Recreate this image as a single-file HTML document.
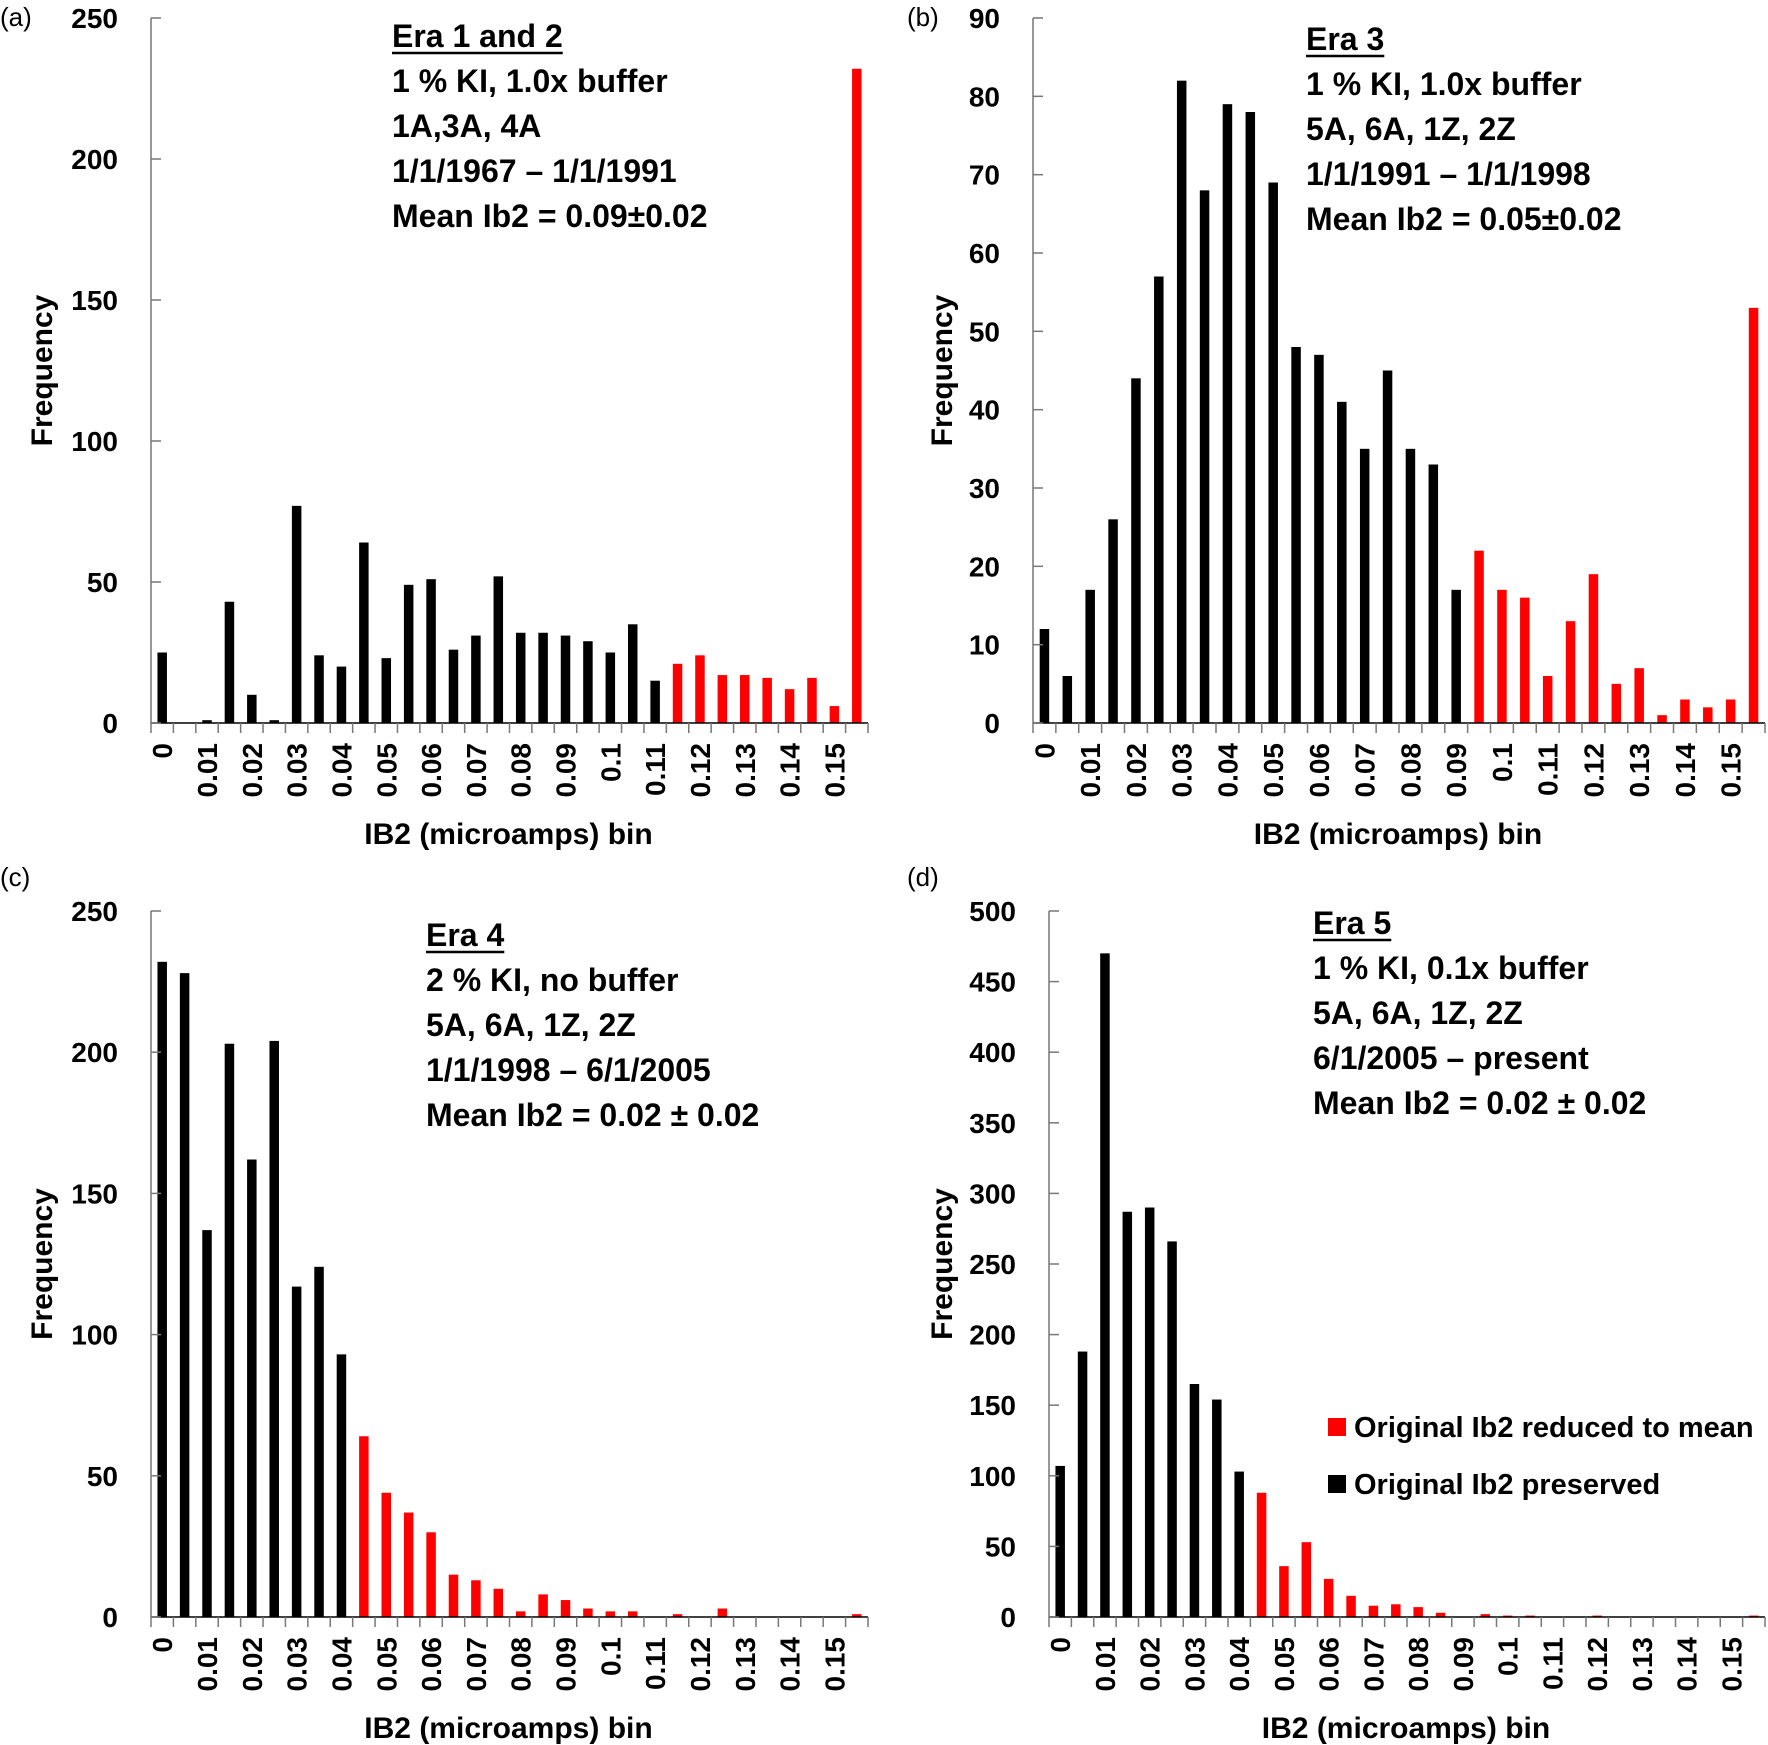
<!DOCTYPE html>
<html><head><meta charset="utf-8">
<style>
html,body{margin:0;padding:0;background:#fff;}
svg{display:block;}
text{font-family:"Liberation Sans",sans-serif;}
</style></head>
<body>
<svg id="fig" width="1768" height="1745" viewBox="0 0 1768 1745" xmlns="http://www.w3.org/2000/svg"></svg>
<script>
const binLabels = ["0","0.01","0.02","0.03","0.04","0.05","0.06","0.07","0.08","0.09","0.1","0.11","0.12","0.13","0.14","0.15"];
const valuesA = [25,0,1,43,10,1,77,24,20,64,23,49,51,26,31,52,32,32,31,29,25,35,15,21,24,17,17,16,12,16,6,232];
const redStartA = 23;
const ticksA = [0,50,100,150,200,250];
const valuesB = [12,6,17,26,44,57,82,68,79,78,69,48,47,41,35,45,35,33,17,22,17,16,6,13,19,5,7,1,3,2,3,53];
const redStartB = 19;
const ticksB = [0,10,20,30,40,50,60,70,80,90];
const valuesC = [232,228,137,203,162,204,117,124,93,64,44,37,30,15,13,10,2,8,6,3,2,2,0,1,0,3,0,0,0,0,0,1];
const redStartC = 9;
const ticksC = [0,50,100,150,200,250];
const valuesD = [107,188,470,287,290,266,165,154,103,88,36,53,27,15,8,9,7,3,0,2,1,1,0,0,1,0,0,0,0,0,0,1];
const redStartD = 9;
const ticksD = [0,50,100,150,200,250,300,350,400,450,500];

const NS="http://www.w3.org/2000/svg";
const svg=document.getElementById('fig');
function mk(tag,attrs,parent,txt){const e=document.createElementNS(NS,tag);for(const k in attrs)e.setAttribute(k,attrs[k]);if(txt!==undefined)e.textContent=txt;(parent||svg).appendChild(e);return e;}

function panel(id,L,T,B,R,vals,redStart,ticks,letter,letterX,letterY,annX,annY,lines,ytX){
  const g=mk('g',{});
  
  
  const ymax=ticks[ticks.length-1];
  const y=v=>B-(v/ymax)*(B-T);
  const n=vals.length, cw=(R-L)/n;
  const x=i=>L+cw*(i+0.5);
  vals.forEach((v,i)=>{
    const r=mk('rect',{x:x(i)-4.75,y:y(v),width:9.5,height:B-y(v),fill:i>=redStart?'#ff0000':'#000'},g);
    
    
  });
  const ya=mk('line',{x1:L,y1:T,x2:L,y2:B,stroke:'#777','stroke-width':1.5},g);
  
  
  const xa=mk('line',{x1:L,y1:B,x2:R,y2:B,stroke:'#000','stroke-width':1.5},g);
  
  
  ticks.forEach(t=>{
    mk('line',{x1:L,y1:y(t),x2:L+10,y2:y(t),stroke:'#777','stroke-width':1.5},g);
    const tl=mk('text',{x:L-33,y:y(t)+10,'text-anchor':'end','font-size':28,'font-weight':'bold'},g,String(t));
    
    
  });
  for(let i=0;i<=n;i++) mk('line',{x1:L+cw*i,y1:B,x2:L+cw*i,y2:B+10,stroke:'#777','stroke-width':1.5},g);
  binLabels.forEach((lab,k)=>{
    const cx=x(2*k)+10, cy=B+20;
    const tl=mk('text',{x:cx,y:cy,transform:`rotate(-90 ${cx} ${cy})`,'text-anchor':'end','font-size':28,'font-weight':'bold'},g,lab);
    
    
  });
  const xt=mk('text',{x:(L+R)/2-1,y:B+121,'text-anchor':'middle','font-size':30,'font-weight':'bold'},g,'IB2 (microamps) bin');
  
  
  const yc=(T+B)/2;
  const yt=mk('text',{x:ytX,y:yc,transform:`rotate(-90 ${ytX} ${yc})`,'text-anchor':'middle','font-size':30,'font-weight':'bold'},g,'Frequency');
  
  
  const pl=mk('text',{x:letterX,y:letterY,'font-size':26},g,'('+letter+')');
  
  
  lines.forEach((ln,k)=>{
    const t=mk('text',{x:annX,y:annY+45*k,'font-size':32,'font-weight':'bold'},g,ln);
    
    
    if(k===0){const w=t.getComputedTextLength();mk('line',{x1:annX,y1:annY+6,x2:annX+w,y2:annY+6,stroke:'#000','stroke-width':2.5},g);}
  });
}
panel('a',151,18,723,868,valuesA,redStartA,ticksA,'a',0,26,392,47,['Era 1 and 2','1 % KI, 1.0x buffer','1A,3A, 4A','1/1/1967 – 1/1/1991','Mean Ib2 = 0.09±0.02'],52);
panel('b',1033,18,723,1765,valuesB,redStartB,ticksB,'b',907,26,1306,50,['Era 3','1 % KI, 1.0x buffer','5A, 6A, 1Z, 2Z','1/1/1991 – 1/1/1998','Mean Ib2 = 0.05±0.02'],952);
panel('c',151,911,1617,868,valuesC,redStartC,ticksC,'c',0,886,426,946,['Era 4','2 % KI,  no buffer','5A, 6A, 1Z, 2Z','1/1/1998 – 6/1/2005','Mean Ib2 = 0.02 ± 0.02'],52);
panel('d',1049,911,1617,1765,valuesD,redStartD,ticksD,'d',907,886,1313,934,['Era 5','1 % KI, 0.1x buffer','5A, 6A, 1Z, 2Z',' 6/1/2005 – present','Mean Ib2 = 0.02 ± 0.02'],952);
const lg=mk('g',{});


mk('rect',{x:1328,y:1418,width:18,height:18,fill:'#ff0000'},lg);
const l1=mk('text',{x:1354,y:1437,'font-size':29,'font-weight':'bold'},lg,'Original Ib2  reduced to mean');


mk('rect',{x:1328,y:1475,width:18,height:18,fill:'#000'},lg);
const l2=mk('text',{x:1354,y:1494,'font-size':29,'font-weight':'bold'},lg,'Original Ib2 preserved');


</script>
</body></html>
